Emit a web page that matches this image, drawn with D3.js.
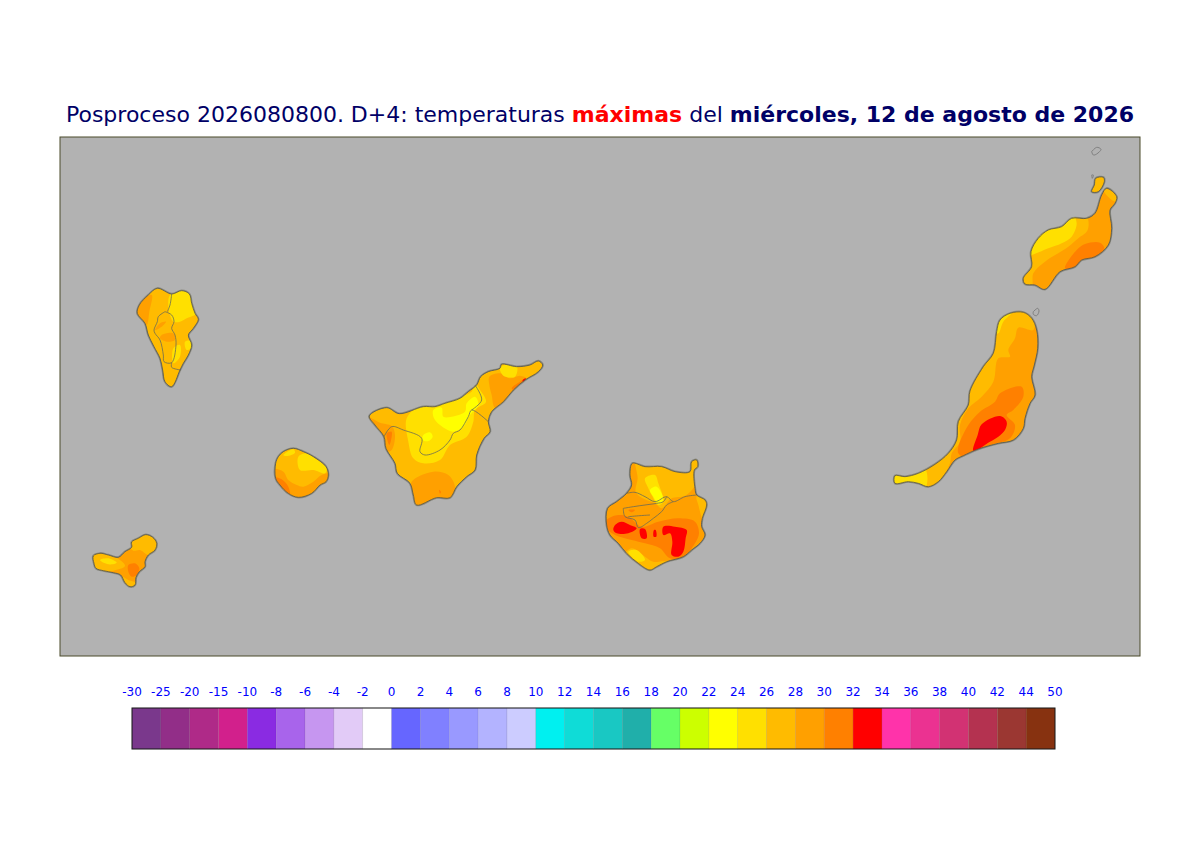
<!DOCTYPE html>
<html><head><meta charset="utf-8">
<script src="https://cdn.jsdelivr.net/npm/d3@7"></script>
<style>html,body{margin:0;padding:0;background:#fff}svg{display:block}</style>
</head><body><svg id="c" width="1200" height="848"></svg>
<script>
// Colour key
const tickLabels = [-30,-25,-20,-15,-10,-8,-6,-4,-2,0,2,4,6,8,10,12,14,16,18,20,22,24,26,28,30,32,34,36,38,40,42,44,50];
const keyColours = ["#7a388c","#922e88","#af2a88","#d2208c","#8a2be2","#a864eb","#c696f0","#e2cbf7","#ffffff",
 "#6666ff","#8080ff","#9999ff","#b3b3ff","#ccccff","#00f0f0","#0fdcd7","#19c8c3","#20afaa","#66ff66","#ccff00",
 "#ffff00","#ffe000","#ffbb00","#ffa000","#ff8000","#ff0000","#ff33aa","#eb3291","#d23273","#b43250","#9b3732","#873210"];
const titleParts = [["Posproceso 2026080800. D+4: temperaturas ","#000066",400],["máximas","#ff0000",700],[" del ","#000066",400],["miércoles, 12 de agosto de 2026","#000066",700]];

// Map sheet: tile origins in sheet units; each outline and contour in tile units
const sheetSize = [3240,1557];
const tiles = {hierroGomera:[60,909],laPalma:[60,429],tenerife:[900,654],canaria:[1605,954],fuerte:[2475,504],lanzarote:[2865,9]};

const hierroCoast = [[40,348],[60,340],[85,345],[115,352],[135,335],[155,322],[155,306],[175,295],[197,284],[218,292],[230,310],[225,330],[205,345],[195,365],[195,380],[178,395],[168,412],[165,435],[150,440],[135,428],[122,405],[100,398],[70,392],[48,385],[42,370]];
const hierroBands = [
 [27,[[155,300],[197,278],[235,305],[228,335],[205,345],[180,330],[160,332],[150,322]]],
 [27,[[35,345],[85,342],[120,360],[135,378],[100,392],[70,396],[40,388]]],
 [27,[[125,410],[145,420],[170,430],[150,445],[130,432]]],
 [25,[[60,360],[85,355],[110,368],[85,373]]],
 [31,[[145,375],[165,370],[178,385],[170,405],[155,410],[145,395]]]];

const gomeraCoast = [[610,35],[640,25],[670,35],[700,50],[738,80],[745,105],[738,125],[720,135],[695,160],[655,172],[625,160],[600,135],[587,115],[587,70],[595,50]];
const gomeraBands = [
 [25,[[655,50],[680,40],[705,55],[740,85],[735,100],[700,90],[660,90]]],
 [25,[[610,45],[640,28],[645,38],[620,48]]],
 [29,[[580,88],[610,95],[625,120],[650,135],[670,140],[700,125],[725,105],[750,100],[750,120],[720,145],[695,170],[655,180],[620,165],[580,125]]],
 [31,[[580,112],[605,118],[625,140],[630,170],[600,150]]]];

const palmaCoast = [[232,25],[275,42],[305,32],[328,42],[335,70],[345,100],[355,118],[340,145],[325,165],[335,195],[325,225],[310,250],[300,270],[275,320],[255,305],[248,270],[240,235],[222,200],[205,165],[195,130],[172,100],[178,75],[205,45]];
const palmaBands = [
 [29,[[168,100],[175,70],[215,45],[208,95],[200,135],[188,125]]],
 [25,[[270,45],[305,28],[338,42],[338,75],[350,100],[320,115],[300,125],[280,125],[270,105],[265,80]]],
 [25,[[280,205],[300,195],[300,230],[280,250]]],
 [25,[[315,185],[335,183],[338,200],[320,210]]],
 [29,[[245,165],[280,160],[285,180],[260,185],[240,175]]],
 [29,[[240,130],[258,125],[245,140],[225,150]]]];
const palmaBorders = [
 [[255,95],[275,105],[282,125],[275,145],[285,165],[288,195],[275,248],[252,245],[250,225],[240,180],[225,160],[222,150],[232,125],[235,110],[255,95]],
 [[275,42],[270,75],[262,95]],
 [[275,248],[275,262],[303,270]]];

const tenerifeCoast = [[28,183],[80,158],[118,176],[190,155],[225,155],[255,145],[300,130],[325,110],[350,90],[362,65],[385,50],[420,40],[425,28],[470,35],[510,30],[535,18],[548,30],[535,50],[495,75],[460,105],[430,140],[395,170],[385,200],[390,230],[372,250],[350,300],[345,345],[320,365],[290,395],[270,428],[230,428],[170,450],[160,420],[150,385],[112,355],[105,325],[78,280],[72,245],[45,210]];
const tenerifeBands = [
 [29,[[20,183],[60,203],[95,213],[105,240],[95,285],[78,290],[65,245],[38,212]]],
 [31,[[80,235],[95,230],[88,270]]],
 [29,[[388,65],[420,55],[450,70],[480,62],[500,72],[465,110],[435,145],[405,158],[395,120],[388,90]]],
 [31,[[455,100],[480,80],[498,70],[465,108]]],
 [33,[[488,75],[498,70],[490,83]]],
 [29,[[155,380],[220,350],[265,360],[285,395],[275,435],[230,435],[165,455],[155,420]]],
 [31,[[237,404],[243,410],[240,416]]],
 [25,[[140,190],[180,152],[225,150],[300,125],[335,110],[345,85],[360,105],[378,140],[345,165],[340,200],[320,245],[270,270],[240,315],[190,325],[160,310],[145,260]]],
 [25,[[420,36],[470,32],[465,65],[430,62]]],
 [23,[[220,165],[245,158],[250,185],[275,185],[315,170],[320,145],[345,125],[355,150],[330,180],[310,215],[280,230],[240,210],[222,190]]],
 [23,[[190,240],[210,232],[218,245],[205,258],[188,255]]]];
const tenerifeBorders = [
 [[72,245],[95,215],[130,225],[185,250],[180,290],[195,300],[240,285],[270,255],[280,235],[300,225],[325,185],[335,165],[385,200]],
 [[345,90],[365,135],[335,165]]];

const canariaCoast = [[112,25],[150,35],[200,35],[240,50],[285,50],[290,20],[305,15],[308,35],[298,45],[300,100],[305,120],[330,135],[335,150],[322,190],[320,215],[330,240],[315,265],[290,285],[265,305],[215,320],[185,335],[165,345],[130,325],[95,295],[70,265],[45,240],[35,210],[38,160],[65,140],[95,115],[110,90],[105,60]];
const canariaBands = [
 [27,[[122,18],[150,28],[200,28],[240,44],[285,44],[290,12],[312,12],[306,60],[298,95],[270,122],[230,130],[200,160],[180,145],[140,128],[122,110],[128,70]]],
 [27,[[305,125],[335,130],[340,150],[325,195],[310,150]]],
 [25,[[150,70],[180,60],[190,85],[205,140],[190,150],[170,120],[160,100]]],
 [23,[[165,105],[185,95],[205,135],[190,145],[175,125]]],
 [27,[[90,298],[110,280],[150,305],[175,320],[220,318],[185,340],[165,350],[130,330]]],
 [25,[[100,290],[125,285],[150,315],[130,320]]],
 [31,[[35,195],[70,180],[100,185],[140,215],[190,200],[250,190],[300,200],[312,235],[300,265],[265,305],[225,310],[195,280],[150,265],[110,255],[60,240],[35,220]]],
 [31,[[100,165],[120,165],[110,172]]],
 [33,[[60,210],[80,200],[105,210],[125,220],[100,235],[65,235],[55,225]]],
 [33,[[135,222],[150,222],[155,250],[140,250]]],
 [33,[[177,225],[182,225],[184,245],[176,245]]],
 [33,[[205,215],[240,215],[275,225],[272,250],[265,290],[250,305],[230,300],[232,260],[225,235],[205,240]]]];
const canariaBorders = [
 [[95,115],[120,112],[150,125],[180,140],[215,125],[235,140],[270,125],[305,120]],
 [[85,160],[115,155],[150,150],[185,145],[205,140],[215,125]],
 [[85,160],[90,185],[120,195],[130,218],[155,205],[175,190],[200,170],[215,150],[235,140]],
 [[100,185],[135,182],[165,180]]];

const fuerteCoast = [[30,512],[60,515],[100,505],[150,478],[190,445],[215,405],[220,350],[250,300],[255,258],[295,185],[325,145],[335,80],[345,45],[375,25],[415,22],[440,40],[455,75],[458,130],[448,180],[440,215],[450,270],[435,295],[420,340],[415,370],[385,405],[340,415],[280,432],[235,452],[210,465],[185,500],[160,530],[130,545],[100,535],[70,530],[30,535]];
const fuerteBands = [
 [27,[[120,490],[185,440],[208,400],[212,345],[243,295],[248,255],[288,180],[318,140],[328,78],[338,40],[375,18],[415,15],[445,35],[445,75],[400,68],[390,100],[370,135],[375,155],[340,160],[325,230],[290,275],[250,310],[225,360],[225,410],[200,445],[195,475],[160,535],[130,552],[120,552]]],
 [25,[[328,85],[338,40],[380,24],[355,50],[340,85]]],
 [25,[[25,508],[120,492],[120,550],[70,536],[25,540]]],
 [31,[[220,425],[250,360],[285,320],[330,290],[345,265],[410,245],[415,275],[385,315],[365,330],[390,360],[375,400],[315,420],[265,440],[235,455],[220,445]]],
 [33,[[290,358],[345,333],[365,350],[360,375],[340,395],[315,410],[265,438],[278,390]]]];
const lobosIslet = [[445,20],[458,10],[462,18],[455,32],[445,28],[445,20]];

const lanzaroteCoast = [[25,415],[50,380],[48,335],[70,295],[100,270],[140,260],[170,235],[215,235],[240,220],[260,165],[275,145],[305,170],[300,190],[285,210],[290,265],[280,315],[240,350],[200,360],[180,380],[135,395],[90,448],[60,435],[30,432]];
const lanzaroteBands = [
 [27,[[18,415],[42,378],[40,332],[65,290],[98,264],[140,254],[170,228],[215,230],[218,270],[190,295],[160,320],[90,365],[55,400],[50,440],[25,440]]],
 [25,[[40,345],[65,290],[98,264],[140,254],[175,228],[185,250],[170,290],[140,310],[100,325]]],
 [27,[[265,145],[310,168],[302,185],[270,160]]],
 [31,[[150,385],[185,330],[210,312],[255,308],[268,325],[245,355],[200,365],[180,385]]]];
const graciosaCoast = [[242,115],[265,112],[268,125],[250,155],[230,155],[238,135]];
const graciosaValue = 27;
const lanzaroteIslets = [
 [[230,35],[245,22],[258,28],[245,42],[235,45],[230,35]],
 [[230,105],[235,105],[232,115],[230,105]]];

const islands = [
 {id:"hierro",tile:"hierroGomera",coast:hierroCoast,base:29,bands:hierroBands,borders:[]},
 {id:"gomera",tile:"hierroGomera",coast:gomeraCoast,base:27,bands:gomeraBands,borders:[]},
 {id:"palma",tile:"laPalma",coast:palmaCoast,base:27,bands:palmaBands,borders:palmaBorders},
 {id:"tenerife",tile:"tenerife",coast:tenerifeCoast,base:27,bands:tenerifeBands,borders:tenerifeBorders},
 {id:"canaria",tile:"canaria",coast:canariaCoast,base:29,bands:canariaBands,borders:canariaBorders},
 {id:"fuerte",tile:"fuerte",coast:fuerteCoast,base:29,bands:fuerteBands,borders:[],islets:[lobosIslet]},
 {id:"lanzarote",tile:"lanzarote",coast:lanzaroteCoast,base:29,bands:lanzaroteBands,borders:[],islets:lanzaroteIslets},
 {id:"graciosa",tile:"lanzarote",coast:graciosaCoast,base:graciosaValue,bands:[],borders:[]}
];

const svg = d3.select("#c");
const frame = {l:60,r:1140,t:137,b:656};
const sx = d3.scaleLinear().domain([0,sheetSize[0]]).range([frame.l,frame.r]);
const sy = d3.scaleLinear().domain([0,sheetSize[1]]).range([frame.t,frame.b]);
const tempColour = d3.scaleThreshold().domain(tickLabels.slice(1,-1)).range(keyColours);

svg.append("rect").attr("x",frame.l).attr("y",frame.t).attr("width",frame.r-frame.l).attr("height",frame.b-frame.t)
  .attr("fill","#b2b2b2").attr("stroke","#4a4a2a").attr("stroke-width",1);

const title = svg.append("text").attr("x",600).attr("y",122).attr("text-anchor","middle")
  .attr("font-family","DejaVu Sans").attr("font-size",22);
title.selectAll("tspan").data(titleParts).join("tspan").text(d=>d[0]).attr("fill",d=>d[1]).attr("font-weight",d=>d[2]).attr("xml:space","preserve");

const defs = svg.append("defs");
islands.forEach(isl=>{
  const o = tiles[isl.tile];
  const px = p=>[sx(o[0]+p[0]),sy(o[1]+p[1])];
  const smooth = d3.line().curve(d3.curveCatmullRomClosed.alpha(0.5));
  const open = d3.line().curve(d3.curveCatmullRom.alpha(0.5));
  const coastPath = smooth(isl.coast.map(px));
  defs.append("clipPath").attr("id","clip-"+isl.id).append("path").attr("d",coastPath);
  const g = svg.append("g").attr("id",isl.id);
  g.append("path").attr("d",coastPath).attr("fill","none").attr("stroke","#8c8c84").attr("stroke-width",2.4);
  const fill = g.append("g").attr("clip-path",`url(#clip-${isl.id})`);
  fill.append("path").attr("d",coastPath).attr("fill",tempColour(isl.base));
  fill.selectAll("path.band").data(isl.bands).join("path").attr("class","band")
    .attr("d",d=>smooth(d[1].map(px))).attr("fill",d=>tempColour(d[0]));
  g.selectAll("path.border").data(isl.borders).join("path").attr("class","border")
    .attr("d",d=>open(d.map(px))).attr("fill","none").attr("stroke","#6b6b55").attr("stroke-width",0.8);
  g.append("path").attr("d",coastPath).attr("fill","none").attr("stroke","#55554a").attr("stroke-width",0.8).attr("stroke-linejoin","round");
  g.selectAll("path.islet").data(isl.islets||[]).join("path").attr("class","islet")
    .attr("d",d=>open(d.map(px))).attr("fill","none").attr("stroke","#808080").attr("stroke-width",1);
});

// Colour key
const keyX = d3.scalePoint().domain(tickLabels).range([132,1055]);
const keyTop = 708, keyBottom = 749;
const key = svg.append("g");
key.selectAll("rect").data(keyColours).join("rect")
  .attr("x",(d,i)=>keyX(tickLabels[i])).attr("y",keyTop)
  .attr("width",(d,i)=>keyX(tickLabels[i+1])-keyX(tickLabels[i])).attr("height",keyBottom-keyTop)
  .attr("fill",d=>d).attr("stroke","#000").attr("stroke-opacity",0.1).attr("stroke-width",0.7);
key.append("rect").attr("x",132).attr("y",keyTop).attr("width",1055-132).attr("height",keyBottom-keyTop)
  .attr("fill","none").attr("stroke","#1a1a1a").attr("stroke-width",1);
const axis = svg.append("g").attr("transform","translate(0,699)")
  .call(d3.axisTop(keyX).tickSize(0).tickPadding(3).offset(0));
axis.select(".domain").remove();
axis.selectAll("text").attr("font-family","DejaVu Sans").attr("font-size",12).attr("fill","#0000ff");
</script></body></html>
